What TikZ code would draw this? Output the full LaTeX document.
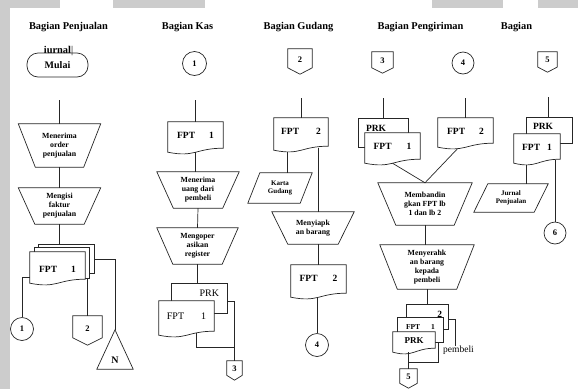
\documentclass[tikz,border=0pt]{standalone}
\usepackage{fontspec}
\setmainfont{Liberation Serif}
\usetikzlibrary{calc}
\pgfdeclarelayer{bg}
\pgfsetlayers{bg,main}
\definecolor{scrgray}{HTML}{CCCCCC}
\newcommand{\fptl}[2][15pt]{FPT\hspace{#1}#2}

\tikzset{
  wire/.style={draw=black!85, line width=0.7pt},
  head/.style={font=\fontsize{10.4}{12}\selectfont\bfseries, anchor=base, inner sep=0pt},
  proc/.style={font=\fontsize{7.8}{9}\selectfont\bfseries, align=center, inner sep=0pt},
  iodata/.style={font=\fontsize{7}{8}\selectfont\bfseries, align=center, inner sep=0pt},
  doc/.style={font=\fontsize{9.5}{11}\selectfont\bfseries, inner sep=0pt, text height=16pt},
  sheet/.style={font=\fontsize{9.5}{11}\selectfont\bfseries, inner ysep=0pt, text height=12pt},
  offpage/.style={font=\fontsize{8.5}{10}\selectfont\bfseries, inner sep=0pt, text depth=4pt},
  onpage/.style={wire, circle, font=\fontsize{8.5}{10}\selectfont\bfseries, inner sep=0pt},
}

\begin{document}
\begin{tikzpicture}[x=1pt,y=-1pt]
\useasboundingbox (0,0) rectangle (578,389);
% screen edges
\fill[scrgray] (0,0) rectangle (10,389);
\fill[scrgray] (0,0) rectangle (60,8);
\fill[scrgray] (113,0) rectangle (205,8);
\fill[scrgray] (432,0) rectangle (503,8);
\fill[scrgray] (538,0) rectangle (578,8);

% headers
\node[head] (hPj) at (68.5,29) {Bagian Penjualan};
\node[head] (hKs) at (187.5,29) {Bagian Kas};
\node[head] (hGd) at (298.5,29) {Bagian Gudang};
\node[head] (hPg) at (420.5,29) {Bagian Pengiriman};
\node[head] (hBg) at (516.5,29) {Bagian};

% Bagian Penjualan
\node[head] (jrn) at (58.5,53) {iurnal\textmd{|}};
\node[wire, rounded corners=11pt, minimum width=61pt, minimum height=24pt, font=\fontsize{10}{12}\selectfont\bfseries] (mulai) at (57.5,65) {Mulai};
\coordinate (pjTop) at (59.5,100);
\node[proc, minimum width=82pt, minimum height=43pt] (tA) at (59.5,145.5) {Menerima\\order\\penjualan};
\node[proc, minimum width=82pt, minimum height=36pt] (tB) at (59.5,206) {Mengisi\\faktur\\penjualan};
\node[minimum width=55pt, minimum height=28pt, inner sep=0pt] (pjL3) at (66.5,259) {};
\node[minimum width=54pt, minimum height=30pt, inner sep=0pt] (pjL2) at (62,263) {};
\node[doc, minimum width=55pt, text height=20pt, text depth=11pt] (pjD) at (57.5,267.5) {\fptl[14pt]{1}};
\node[onpage, minimum size=23pt] (cP1) at (22,329) {1};
\node[offpage, minimum width=29pt, minimum height=29pt] (opP2) at (87.5,330.5) {2};
\node[inner sep=0pt, minimum width=36pt, text height=33pt, text depth=6pt, font=\fontsize{10}{12}\selectfont\bfseries] (triN) at (115,349.5) {N};

% Bagian Kas
\node[onpage, minimum size=24pt] (cK1) at (194.5,63.5) {1};
\coordinate (ksTop) at (195.5,100);
\node[doc, minimum width=55pt, text depth=14pt] (kD1) at (195.5,137) {\fptl[14pt]{1}};
\node[proc, minimum width=82pt, minimum height=36pt] (tC) at (198,190) {Menerima\\uang dari\\pembeli};
\node[proc, minimum width=81pt, minimum height=36pt] (tD) at (197.5,246) {Mengoper\\asikan\\register};
\node[sheet, font=\fontsize{10}{12}\selectfont, text width=39pt, inner xsep=8pt, align=right, text depth=17pt] (kR) at (199.5,298.5) {PRK};
\node[doc, font=\fontsize{10}{12}\selectfont, minimum width=55pt, text height=18pt, text depth=16pt] (kD2) at (186.5,318) {\fptl[17pt]{1}};
\coordinate (ksJoin) at (234.5,347);
\node[offpage, minimum width=15pt, minimum height=19pt] (opK3) at (234.5,370.5) {3};

% Bagian Gudang
\node[offpage, minimum width=24pt, minimum height=25pt] (opG2) at (300,61.5) {2};
\coordinate (gdTop) at (301,98);
\node[doc, minimum width=54pt, text depth=16pt] (gD1) at (301,134) {\fptl[17pt]{2}};
\node[iodata, minimum width=64pt, minimum height=30pt] (pG) at (280,188) {Karta\\Gudang};
\node[proc, minimum width=82pt, minimum height=32pt] (tE) at (313,228) {Menyiapk\\an barang};
\node[doc, minimum width=55pt, text depth=16pt] (gD2) at (318.5,281) {\fptl{2}};
\node[onpage, minimum size=23pt] (cG4) at (317,345) {4};

% Bagian Pengiriman
\node[offpage, minimum width=21pt, minimum height=21pt] (opS3) at (382.5,62.5) {3};
\node[onpage, minimum size=22pt] (cS4) at (463,63) {4};
\coordinate (psTop3) at (383.5,98);
\coordinate (psTop4) at (465.5,98);
\node[sheet, text width=35pt, inner xsep=7pt, align=left, text depth=16pt] (sR) at (383.5,133) {PRK};
\node[doc, minimum width=55pt, text depth=14pt] (sD1) at (392.5,148) {\fptl{1}};
\node[doc, minimum width=55pt, text depth=13pt] (sD2) at (465.5,132.5) {\fptl[14pt]{2}};
\node[proc, minimum width=94pt, minimum height=42pt] (tF) at (425,204) {Membandin\\gkan FPT lb\\1 dan lb 2};
\node[proc, minimum width=94pt, minimum height=44pt] (tG) at (427,267) {Menyerahk\\an barang\\kepada\\pembeli};
\node[sheet, text width=29pt, inner xsep=6pt, align=right, text depth=12pt] (sS2) at (427.5,317) {2};
\node[sheet, font=\fontsize{7.5}{9}\selectfont\bfseries, minimum width=45pt, inner xsep=0pt, text height=11pt, text depth=13pt] (sS1) at (420.5,330) {\fptl[11pt]{1}};
\node[doc, font=\fontsize{9}{11}\selectfont\bfseries, minimum width=42pt, text height=11.5pt, text depth=8.5pt] (sS0) at (414,342) {PRK};
\node[inner sep=0pt, anchor=base, font=\fontsize{9.5}{11}\selectfont] (pbl) at (458.5,352.5) {pembeli};
\coordinate (psJoin) at (408.5,362);
\node[offpage, minimum width=17pt, minimum height=19pt] (opS5) at (408.5,378.5) {5};

% Bagian
\node[offpage, minimum width=19pt, minimum height=20pt] (opB5) at (547.5,62) {5};
\coordinate (bgTop) at (548,97);
\node[sheet, text width=33pt, inner xsep=6pt, align=left, text height=11.5pt, text depth=13.5pt] (bR) at (549.5,130.5) {PRK};
\node[doc, minimum width=46pt, text depth=13pt] (bD) at (537,148.5) {\fptl[7pt]{1}};
\node[iodata, minimum width=74pt, minimum height=28pt] (pB) at (511,198) {Jurnal\\Penjualan};
\node[onpage, minimum size=22pt] (cB6) at (555,233) {6};

% outlines
\begin{pgfonlayer}{bg}
\foreach \n/\s in {tA/17,tB/16.5,tC/16.5,tD/16,tE/16,tF/18,tG/17.5}
  \draw[wire, fill=white] (\n.north west) -- (\n.north east) -- ([xshift=-\s pt]\n.south east) -- ([xshift=\s pt]\n.south west) -- cycle;
\foreach \n in {pjL3,pjL2,kR,sR,sS2,sS1,bR}
  \draw[wire, fill=white] (\n.north west) rectangle (\n.south east);
\foreach \n in {pjD,kD1,kD2,gD1,gD2,sD1,sD2,sS0,bD}
  \draw[wire, fill=white] (\n.south west) -- (\n.north west) -- (\n.north east) -- ([yshift=4pt]\n.south east)
    .. controls ([yshift=4pt]\n.south) and ([yshift=-5.5pt]\n.south) .. (\n.south west) -- cycle;
\foreach \n in {opP2,opK3,opG2,opS3,opS5,opB5}
  \draw[wire, fill=white] (\n.north west) -- (\n.north east) -- ($(\n.south east)!.25!(\n.north east)$) -- (\n.south) -- ($(\n.south west)!.25!(\n.north west)$) -- cycle;
\foreach \n/\s in {pG/12,pB/14}
  \draw[wire, fill=white] ([xshift=\s pt]\n.north west) -- (\n.north east) -- ([xshift=-\s pt]\n.south east) -- (\n.south west) -- cycle;
\draw[wire, fill=white] (triN.north) -- (triN.south east) -- (triN.south west) -- cycle;
\end{pgfonlayer}

% connectors
\draw[wire] (pjTop) -- (tA.north);
\draw[wire] (tA.south) -- (tB.north);
\draw[wire] (tB.south) -- (tB.south |- pjL3.north);
\draw[wire] ([yshift=-10pt]pjD.west) -| (cP1.north);
\draw[wire] (opP2.north |- pjL2.south) -- (opP2.north);
\draw[wire] (pjL3.east) -| (triN.north);

\draw[wire] (ksTop) -- (kD1.north);
\draw[wire] (kD1.south) -- (kD1.south |- tC.north);
\draw[wire] (tC.south) -- (tD.north);
\draw[wire] (tD.south) -- (tD.south |- kR.north);
\draw[wire] ([xshift=10pt,yshift=2.5pt]kD2.south) |- (ksJoin);
\draw[wire] ([yshift=-2.5pt]kR.east) -| (opK3.north);

\draw[wire] (gdTop) -- (gD1.north);
\draw[wire] ([xshift=-14pt,yshift=-1.5pt]gD1.south) coordinate (g1) -- (g1 |- pG.north);
\draw[wire] ([xshift=17pt,yshift=2.5pt]gD1.south) coordinate (g2) -- (g2 |- tE.north);
\draw[wire] (gD2.north |- tE.south) -- (gD2.north);
\draw[wire] (cG4.north |- gD2.south) -- (cG4.north);

\draw[wire] (psTop3) -- (sR.north);
\draw[wire] (psTop4) -- (sD2.north);
\draw[wire] (sD1.south) -- (tF.north);
\draw[wire] ([xshift=-8pt,yshift=-1.5pt]sD2.south) -- (tF.north);
\draw[wire] (tF.south) -- (tF.south |- tG.north);
\draw[wire] (tG.south) -- (tG.south |- sS2.north);
\draw[wire] ([yshift=-2pt]sS2.east) -| ([xshift=-3.5pt]pbl.north);
\draw[wire] (opS5.north |- sS0.south) -- (opS5.north);
\draw[wire] ([xshift=-5pt]sS1.south east) |- (psJoin);

\draw[wire] (bgTop) -- (bgTop |- bR.north);
\draw[wire] ([xshift=-11pt,yshift=-1.5pt]bD.south) coordinate (b1) -- (b1 |- pB.north);
\draw[wire] ([xshift=18pt,yshift=3pt]bD.south) coordinate (b2) -- (b2 |- cB6.north);
\end{tikzpicture}
\end{document}
